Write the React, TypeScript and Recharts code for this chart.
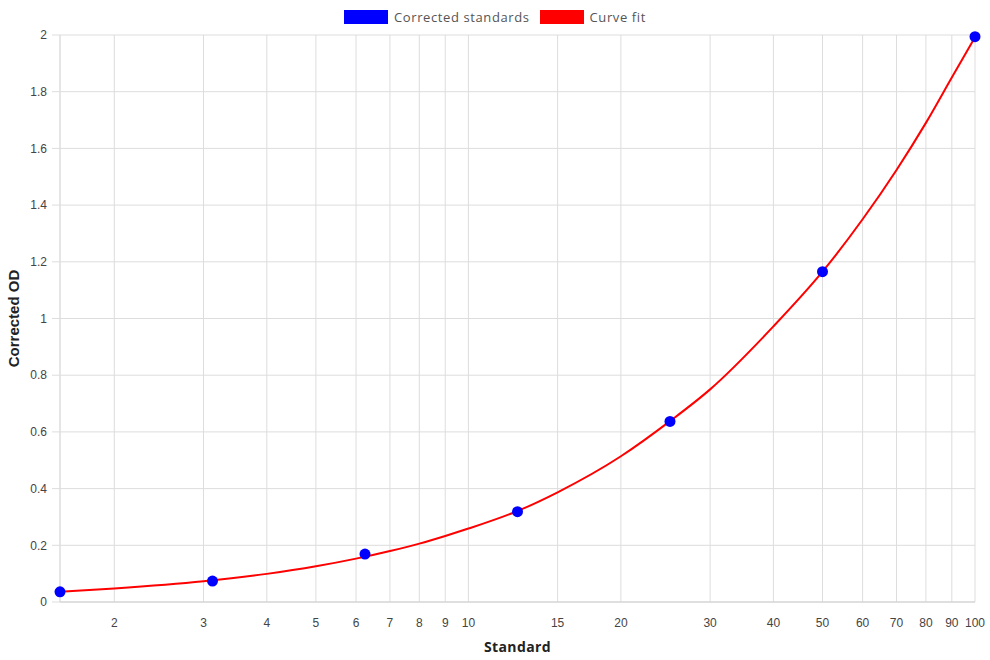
import React from 'react';
import { ComposedChart, Line, Scatter, XAxis, YAxis, CartesianGrid } from 'recharts';

const standardX = [1.5625, 3.125, 6.25, 12.5, 25, 50, 100];
const standardY = [0.036, 0.074, 0.169, 0.3185, 0.637, 1.165, 1.994];

const curveX = [1.5625, 2, 3, 4, 5, 6, 7, 8, 9, 10, 12.5, 15, 20, 25, 30, 40, 50, 60, 70, 80, 90, 100];
const curveY = [0.036, 0.0476, 0.0729, 0.0992, 0.126, 0.153, 0.18, 0.206, 0.233, 0.259, 0.321, 0.387, 0.514, 0.638, 0.75, 0.972, 1.165, 1.35, 1.524, 1.69, 1.85, 1.992];

const xTicks = [1.5625, 2, 3, 4, 5, 6, 7, 8, 9, 10, 15, 20, 30, 40, 50, 60, 70, 80, 90, 100];
const yTicks = [0, 0.2, 0.4, 0.6, 0.8, 1, 1.2, 1.4, 1.6, 1.8, 2];

const legendItems = [
  { label: 'Corrected standards', color: '#0000ff' },
  { label: 'Curve fit', color: '#ff0000' },
];

const standardData = standardX.map((x, i) => ({ x, y: standardY[i] }));
const curveData = curveX.map((x, i) => ({ x, y: curveY[i] }));

const W = 990;
const H = 660;

const YTitle = (props: any) => {
  const vb = props.viewBox || {};
  const cy = (vb.y ?? 35) + (vb.height ?? 567) / 2;
  const cx = 13;
  return (
    <text
      x={cx}
      y={cy}
      transform={`rotate(-90, ${cx}, ${cy})`}
      textAnchor="middle"
      dominantBaseline="central"
      fontFamily="'Liberation Sans', Arial, sans-serif"
      fontWeight="bold"
      fontSize={15}
      fill="#222"
    >
      Corrected OD
    </text>
  );
};

const fmtX = (v: number) => (v === 1.5625 ? '' : String(v));

export default function App() {
  return (
    <div style={{ position: 'absolute', left: 0, top: 0, width: W, height: H, background: '#fff' }}>
      <div
        style={{
          position: 'absolute',
          top: 10,
          left: 0,
          width: W,
          display: 'flex',
          justifyContent: 'center',
          alignItems: 'center',
          fontFamily: "'Open Sans', sans-serif",
          fontSize: 13,
          letterSpacing: 0.6,
          color: '#555',
          zIndex: 2,
        }}
      >
        {legendItems.map((it, i) => (
          <div key={i} style={{ display: 'flex', alignItems: 'center', marginRight: i === 0 ? 10 : 0 }}>
            <div style={{ width: 44, height: 14, background: it.color, marginRight: 6 }} />
            <span style={{ lineHeight: '14px' }}>{it.label}</span>
          </div>
        ))}
      </div>
      <ComposedChart width={W} height={H} margin={{ top: 35, right: 15, bottom: 0, left: 0 }}>
        <CartesianGrid stroke="#dddddd" strokeWidth={1} />
        <XAxis
          dataKey="x"
          type="number"
          scale="log"
          domain={[1.5625, 100]}
          ticks={xTicks}
          tickFormatter={fmtX}
          height={58}
          tickSize={0}
          tickMargin={16}
          axisLine={{ stroke: '#d0d0d0' }}
          tick={{ fill: '#444', fontSize: 12, fontFamily: "'Liberation Sans', Arial, sans-serif" }}
          interval={0}
          label={{
            value: 'Standard',
            position: 'insideBottom',
            offset: 8,
            style: { fontFamily: "'Open Sans', sans-serif", fontWeight: 'bold', fontSize: 14, letterSpacing: 0.4, fill: '#222' },
          }}
        />
        <YAxis
          dataKey="y"
          type="number"
          domain={[0, 2]}
          ticks={yTicks}
          width={60}
          tickSize={8}
          tickMargin={5}
          axisLine={{ stroke: '#dddddd' }}
          tickLine={{ stroke: '#dddddd' }}
          tick={{ fill: '#444', fontSize: 12, fontFamily: "'Liberation Sans', Arial, sans-serif" }}
          interval={0}
          label={<YTitle />}
        />
        <Line
          data={curveData}
          dataKey="y"
          type="monotone"
          stroke="#ff0000"
          strokeWidth={2}
          dot={false}
          activeDot={false}
          isAnimationActive={false}
        />
        <Scatter
          data={standardData}
          dataKey="y"
          fill="#0000ff"
          shape={(p: any) => <circle cx={p.cx} cy={p.cy} r={5.5} fill="#0000ff" />}
          isAnimationActive={false}
        />
      </ComposedChart>
    </div>
  );
}
